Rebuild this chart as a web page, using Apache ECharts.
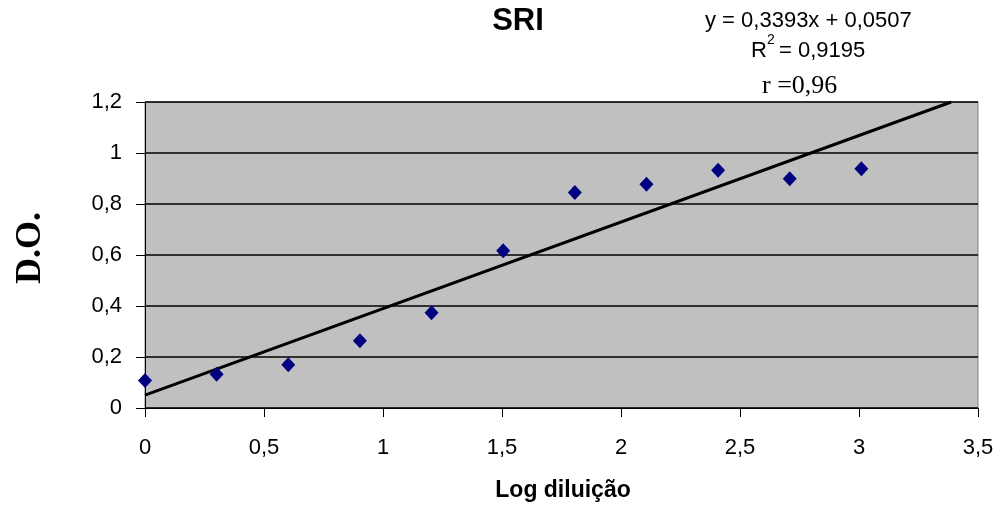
<!DOCTYPE html>
<html>
<head>
<meta charset="utf-8">
<script src="https://cdn.jsdelivr.net/npm/echarts@6/dist/echarts.min.js"></script>
<style>
  html, body { margin: 0; padding: 0; background: #ffffff; }
  #chart { width: 1000px; height: 512px; }
</style>
</head>
<body>
<div id="chart"></div>
<script>
// Log of dilution and measured optical density (D.O.)
const logDilution = [0, 0.301, 0.602, 0.903, 1.204, 1.505, 1.806, 2.107, 2.408, 2.709, 3.010];
const opticalDensity = [0.108, 0.132, 0.170, 0.264, 0.374, 0.617, 0.845, 0.877, 0.932, 0.899, 0.938];

// Linear trend: y = 0.3393x + 0.0507
const slope = 0.3393;
const intercept = 0.0507;
const yMax = 1.2;
const trendEnd = (yMax - intercept) / slope;
const trendLine = [[0, intercept], [trendEnd, slope * trendEnd + intercept]];

const comma = v => String(Math.round(v * 10) / 10).replace('.', ',');

const sans = '"Liberation Sans", Arial, sans-serif';
const serif = '"Liberation Serif", "Times New Roman", serif';

const chart = echarts.init(document.getElementById('chart'));
chart.setOption({
  animation: false,
  backgroundColor: '#ffffff',
  grid: {
    left: 145, right: 22, top: 102, bottom: 104,
    outerBoundsMode: 'none', containLabel: false,
    show: true, backgroundColor: '#c0c0c0', borderColor: '#808080', borderWidth: 1
  },
  graphic: [
    { type: 'text', x: 518, y: 21, style: { text: 'SRI', font: 'bold 31px ' + sans, fill: '#000', align: 'center', verticalAlign: 'middle' } },
    { type: 'text', x: 705, y: 21, style: { text: 'y = 0,3393x + 0,0507', font: '22px ' + sans, fill: '#000', align: 'left', verticalAlign: 'middle' } },
    { type: 'text', x: 751, y: 51, style: { text: 'R', font: '22px ' + sans, fill: '#000', align: 'left', verticalAlign: 'middle' } },
    { type: 'text', x: 767, y: 40, style: { text: '2', font: '14px ' + sans, fill: '#000', align: 'left', verticalAlign: 'middle' } },
    { type: 'text', x: 779, y: 51, style: { text: '= 0,9195', font: '22px ' + sans, fill: '#000', align: 'left', verticalAlign: 'middle' } },
    { type: 'text', x: 762, y: 86, style: { text: 'r =0,96', font: '26px ' + serif, fill: '#000', align: 'left', verticalAlign: 'middle' } },
    { type: 'text', x: 31, y: 248, rotation: Math.PI / 2, style: { text: 'D.O.', font: 'bold 36px ' + serif, fill: '#000', align: 'center', verticalAlign: 'middle' } },
    { type: 'text', x: 563, y: 491, style: { text: 'Log diluição', font: 'bold 23px ' + sans, fill: '#000', align: 'center', verticalAlign: 'middle' } }
  ],
  xAxis: {
    type: 'value', min: 0, max: 3.5, interval: 0.5,
    axisLine: { show: true, lineStyle: { color: '#000', width: 1 } },
    axisTick: { show: true, length: 9, lineStyle: { color: '#000' } },
    axisLabel: { formatter: comma, fontFamily: sans, fontSize: 22, color: '#000', margin: 29 },
    splitLine: { show: false }
  },
  yAxis: {
    type: 'value', min: 0, max: 1.2, interval: 0.2,
    axisLine: { show: true, lineStyle: { color: '#000', width: 1 } },
    axisTick: { show: true, length: 9, lineStyle: { color: '#000' } },
    axisLabel: { formatter: comma, fontFamily: sans, fontSize: 22, color: '#000', margin: 23 },
    splitLine: { show: true, lineStyle: { color: '#000', width: 1.5 } }
  },
  series: [
    {
      type: 'line', data: trendLine, symbol: 'none', silent: true,
      lineStyle: { color: '#000', width: 3 }, z: 2
    },
    {
      type: 'scatter', data: logDilution.map((x, i) => [x, opticalDensity[i]]),
      symbol: 'diamond', symbolSize: [14, 15],
      itemStyle: { color: '#000080', opacity: 1 }, z: 3
    }
  ]
});
</script>
</body>
</html>
